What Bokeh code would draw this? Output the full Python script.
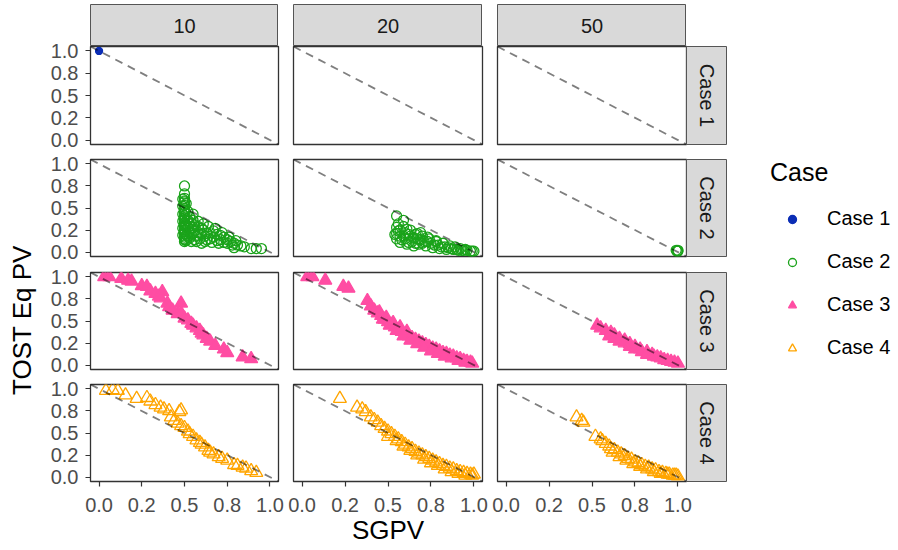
import math

from bokeh.embed import file_html
from bokeh.layouts import column, row
from bokeh.models import (CustomJSTickFormatter, FixedTicker, Label, Legend, LegendItem,
                          Slope, Title)
from bokeh.plotting import figure
from bokeh.resources import INLINE

FONT = "Liberation Sans"

# ---- facet levels and axis ticks -------------------------------------------
sample_sizes = ["10", "20", "50"]
case_names = ["Case 1", "Case 2", "Case 3", "Case 4"]
axis_ticks = [0.0, 0.25, 0.5, 0.75, 1.0]
axis_tick_labels = ["0.0", "0.2", "0.5", "0.8", "1.0"]

# ---- SGPV (x) and TOST equivalence p-value (y), one pair per facet ----------
case1_n10_sgpv = [0.0]
case1_n10_tost = [1.0]
case1_n20_sgpv = []
case1_n20_tost = []
case1_n50_sgpv = []
case1_n50_tost = []

case2_n10_sgpv = [0.50, 0.50, 0.50, 0.50, 0.50, 0.50, 0.50, 0.50, 0.50, 0.50, 0.50, 0.50, 0.50, 0.50, 0.50,
                  0.51, 0.51, 0.51, 0.51, 0.52, 0.53, 0.53, 0.53, 0.53, 0.55, 0.55, 0.55, 0.55, 0.56,
                  0.58, 0.58, 0.58, 0.59, 0.61, 0.61, 0.62, 0.62, 0.64, 0.65, 0.65, 0.66, 0.68, 0.69,
                  0.69, 0.70, 0.72, 0.73, 0.73, 0.76, 0.77, 0.78, 0.79, 0.80, 0.81, 0.83, 0.85, 0.89,
                  0.92, 0.95,
                  0.49, 0.50, 0.49, 0.50, 0.49, 0.50, 0.49, 0.50, 0.49, 0.50, 0.49, 0.50, 0.50, 0.51,
                  0.52, 0.52, 0.52, 0.54, 0.54, 0.54, 0.54, 0.56, 0.56, 0.57, 0.57, 0.60, 0.60, 0.60,
                  0.63, 0.63, 0.67, 0.67, 0.71, 0.71, 0.75, 0.75, 0.79]
case2_n10_tost = [0.75, 0.66, 0.61, 0.57, 0.53, 0.49, 0.45, 0.41, 0.37, 0.33, 0.29, 0.25, 0.21, 0.17, 0.14,
                  0.55, 0.43, 0.31, 0.19, 0.46, 0.40, 0.32, 0.24, 0.16, 0.43, 0.36, 0.28, 0.21, 0.14,
                  0.35, 0.29, 0.22, 0.15, 0.32, 0.25, 0.18, 0.12, 0.29, 0.22, 0.15, 0.11, 0.27, 0.20,
                  0.13, 0.10, 0.22, 0.17, 0.11, 0.17, 0.12, 0.08, 0.05, 0.13, 0.08, 0.07, 0.06, 0.04,
                  0.04, 0.04,
                  0.60, 0.58, 0.52, 0.47, 0.43, 0.39, 0.35, 0.31, 0.27, 0.23, 0.19, 0.15, 0.12, 0.13,
                  0.18, 0.28, 0.36, 0.12, 0.19, 0.26, 0.33, 0.24, 0.31, 0.12, 0.18, 0.10, 0.20, 0.27,
                  0.14, 0.21, 0.17, 0.24, 0.14, 0.19, 0.10, 0.14, 0.10]
case2_n20_sgpv = [0.55, 0.59, 0.55, 0.55, 0.55, 0.57, 0.57, 0.57, 0.59, 0.60, 0.60, 0.61, 0.63, 0.63, 0.64,
                  0.65, 0.67, 0.67, 0.68, 0.70, 0.71, 0.72, 0.74, 0.75, 0.76, 0.78, 0.79, 0.80, 0.82,
                  0.83, 0.84, 0.86, 0.87, 0.89, 0.90, 0.92, 0.93, 0.95, 0.96, 0.98, 0.99, 1.00, 0.69,
                  0.54, 0.56, 0.56, 0.58, 0.59, 0.61, 0.62, 0.62, 0.65, 0.66, 0.66, 0.69, 0.70, 0.73,
                  0.73, 0.77, 0.78, 0.81, 0.85, 0.88, 0.91, 0.94]
case2_n20_tost = [0.41, 0.36, 0.28, 0.21, 0.15, 0.25, 0.18, 0.11, 0.29, 0.22, 0.15, 0.09, 0.25, 0.18, 0.12,
                  0.07, 0.21, 0.15, 0.09, 0.18, 0.12, 0.07, 0.15, 0.10, 0.05, 0.12, 0.08, 0.04, 0.10,
                  0.06, 0.03, 0.07, 0.04, 0.06, 0.03, 0.04, 0.02, 0.03, 0.02, 0.01, 0.01, 0.01, 0.22,
                  0.20, 0.32, 0.24, 0.14, 0.18, 0.26, 0.20, 0.11, 0.16, 0.20, 0.10, 0.14, 0.10, 0.12,
                  0.17, 0.08, 0.13, 0.06, 0.05, 0.03, 0.02, 0.02]
case2_n50_sgpv = [0.99, 1.00, 1.00, 0.995]
case2_n50_tost = [0.02, 0.01, 0.02, 0.01]

case3_n10_sgpv = [0.03, 0.06, 0.13, 0.17, 0.19, 0.25, 0.28, 0.30, 0.33, 0.35, 0.37, 0.36, 0.40, 0.41, 0.48,
                  0.43, 0.46, 0.48, 0.50, 0.52, 0.54, 0.55, 0.57, 0.59, 0.60, 0.61, 0.63, 0.65, 0.68,
                  0.73, 0.75, 0.84, 0.89]
case3_n10_tost = [1.00, 1.00, 0.98, 0.96, 0.95, 0.90, 0.89, 0.84, 0.81, 0.78, 0.83, 0.76, 0.70, 0.66, 0.70,
                  0.62, 0.58, 0.59, 0.53, 0.51, 0.47, 0.45, 0.42, 0.39, 0.36, 0.34, 0.30, 0.27, 0.22,
                  0.18, 0.14, 0.09, 0.07]
case3_n20_sgpv = [0.03, 0.06, 0.135, 0.24, 0.27, 0.38, 0.40, 0.42, 0.44, 0.46, 0.48, 0.50, 0.52, 0.54,
                  0.56, 0.58, 0.60, 0.62, 0.64, 0.66, 0.68, 0.70, 0.72, 0.74, 0.76, 0.78, 0.80, 0.82,
                  0.84, 0.86, 0.88, 0.90, 0.92, 0.94, 0.96, 0.98, 0.99, 0.47, 0.51, 0.55, 0.59, 0.63,
                  0.67, 0.71, 0.75, 0.79, 0.83, 0.87, 0.91, 0.95, 0.45, 0.49, 0.53, 0.57, 0.61]
case3_n20_tost = [1.00, 1.00, 0.96, 0.89, 0.87, 0.73, 0.67, 0.62, 0.59, 0.56, 0.52, 0.49, 0.46, 0.43,
                  0.40, 0.38, 0.35, 0.33, 0.31, 0.29, 0.27, 0.25, 0.23, 0.21, 0.19, 0.18, 0.16, 0.14,
                  0.13, 0.11, 0.10, 0.08, 0.07, 0.05, 0.04, 0.03, 0.02, 0.52, 0.45, 0.39, 0.33, 0.28,
                  0.24, 0.20, 0.16, 0.13, 0.10, 0.08, 0.05, 0.03, 0.60, 0.54, 0.48, 0.43, 0.38]
case3_n50_sgpv = [0.53, 0.55, 0.58, 0.61, 0.60, 0.63, 0.63, 0.66, 0.66, 0.69, 0.69, 0.72, 0.72, 0.75,
                  0.75, 0.78, 0.79, 0.82, 0.82, 0.85, 0.86, 0.88, 0.90, 0.92, 0.94, 0.96, 0.98, 1.00]
case3_n50_tost = [0.45, 0.42, 0.39, 0.37, 0.33, 0.34, 0.30, 0.30, 0.27, 0.28, 0.25, 0.24, 0.21, 0.21,
                  0.18, 0.18, 0.15, 0.15, 0.12, 0.12, 0.10, 0.09, 0.08, 0.06, 0.05, 0.04, 0.03, 0.02]

case4_n10_sgpv = [0.04, 0.08, 0.11, 0.155, 0.22, 0.28, 0.30, 0.33, 0.36, 0.38, 0.41, 0.47, 0.48, 0.42,
                  0.44, 0.46, 0.48, 0.50, 0.52, 0.53, 0.55, 0.57, 0.59, 0.60, 0.62, 0.64, 0.65, 0.67,
                  0.70, 0.72, 0.75, 0.79, 0.81, 0.84, 0.86, 0.89, 0.92]
case4_n10_tost = [0.98, 0.99, 0.98, 0.93, 0.89, 0.90, 0.86, 0.82, 0.79, 0.77, 0.75, 0.74, 0.76, 0.68,
                  0.64, 0.61, 0.58, 0.56, 0.52, 0.49, 0.46, 0.42, 0.39, 0.37, 0.34, 0.30, 0.28, 0.26,
                  0.23, 0.21, 0.19, 0.14, 0.13, 0.11, 0.10, 0.07, 0.05]
case4_n20_sgpv = [0.22, 0.32, 0.35, 0.37, 0.40, 0.42, 0.44, 0.46, 0.48, 0.50, 0.50, 0.52, 0.54, 0.56,
                  0.58, 0.60, 0.62, 0.64, 0.66, 0.68, 0.70, 0.72, 0.74, 0.76, 0.78, 0.80, 0.82, 0.84,
                  0.86, 0.88, 0.90, 0.92, 0.94, 0.96, 0.98, 0.99, 1.00, 0.55, 0.59, 0.63, 0.67, 0.71,
                  0.75, 0.79, 0.83, 0.87, 0.91, 0.95]
case4_n20_tost = [0.89, 0.79, 0.77, 0.74, 0.68, 0.65, 0.62, 0.58, 0.55, 0.46, 0.52, 0.49, 0.46, 0.43,
                  0.40, 0.37, 0.34, 0.32, 0.29, 0.27, 0.25, 0.23, 0.21, 0.19, 0.17, 0.15, 0.13, 0.12,
                  0.10, 0.09, 0.07, 0.06, 0.05, 0.04, 0.03, 0.02, 0.03, 0.41, 0.35, 0.30, 0.25, 0.20,
                  0.16, 0.13, 0.09, 0.06, 0.04, 0.02]
case4_n50_sgpv = [0.41, 0.44, 0.45, 0.52, 0.55, 0.56, 0.58, 0.60, 0.61, 0.63, 0.65, 0.67, 0.69, 0.71,
                  0.73, 0.75, 0.77, 0.79, 0.81, 0.83, 0.85, 0.87, 0.89, 0.91, 0.93, 0.95, 0.97, 0.99,
                  1.00, 0.62, 0.66, 0.70, 0.74, 0.78, 0.82, 0.86, 0.90, 0.94, 0.98]
case4_n50_tost = [0.68, 0.64, 0.62, 0.46, 0.43, 0.41, 0.38, 0.35, 0.32, 0.31, 0.28, 0.26, 0.24, 0.21,
                  0.20, 0.17, 0.16, 0.14, 0.12, 0.11, 0.09, 0.08, 0.06, 0.05, 0.04, 0.03, 0.02, 0.02,
                  0.01, 0.28, 0.23, 0.19, 0.15, 0.12, 0.09, 0.06, 0.04, 0.03, 0.02]

facet_data = {
    (0, 0): (case1_n10_sgpv, case1_n10_tost),
    (0, 1): (case1_n20_sgpv, case1_n20_tost),
    (0, 2): (case1_n50_sgpv, case1_n50_tost),
    (1, 0): (case2_n10_sgpv, case2_n10_tost),
    (1, 1): (case2_n20_sgpv, case2_n20_tost),
    (1, 2): (case2_n50_sgpv, case2_n50_tost),
    (2, 0): (case3_n10_sgpv, case3_n10_tost),
    (2, 1): (case3_n20_sgpv, case3_n20_tost),
    (2, 2): (case3_n50_sgpv, case3_n50_tost),
    (3, 0): (case4_n10_sgpv, case4_n10_tost),
    (3, 1): (case4_n20_sgpv, case4_n20_tost),
    (3, 2): (case4_n50_sgpv, case4_n50_tost),
}

# ---- styling ----------------------------------------------------------------
case_colors = ["#0B2DB5", "#1AA31A", "#FF4DA3", "#FFA500"]
case_markers = ["circle", "circle", "triangle", "triangle"]
case_filled = [True, False, True, False]
case_sizes = [7, 10, 13, 13]

STRIP_FILL = "#D9D9D9"
STRIP_LINE = "#555555"
PANEL_LINE = "#333333"

FRAME_W = [188, 189, 189]      # panel widths per column
LEFT_W = [50, 15, 15]          # space left of each panel (col 0 holds y tick labels)
FRAME_H = [98, 97, 97, 97]     # panel heights per row
BELOW_H = [15, 16, 15, 69]     # space below each panel (last row holds x axis)
STRIP_H = 46
SIDE_W = 41
TITLE_W = 40
LEGEND_W = 171
BLEED = 10                     # transparent overhang so tick labels are not clipped


def style_axis(ax, standoff):
    ax.ticker = FixedTicker(ticks=axis_ticks)
    ax.formatter = CustomJSTickFormatter(
        args=dict(tick_values=axis_ticks, tick_labels=axis_tick_labels),
        code="const i = tick_values.indexOf(tick); return i >= 0 ? tick_labels[i] : '';",
    )
    ax.axis_line_color = None
    ax.major_tick_line_color = PANEL_LINE
    ax.major_tick_line_width = 1.2
    ax.major_tick_out = 5
    ax.major_tick_in = 0
    ax.minor_tick_line_color = None
    ax.major_label_text_font = FONT
    ax.major_label_text_font_size = "20px"
    ax.major_label_text_color = "#4D4D4D"
    ax.major_label_standoff = standoff


def make_panel(r, c):
    b = BLEED
    p = figure(
        width=LEFT_W[c] + FRAME_W[c] + 2 * b, height=FRAME_H[r] + BELOW_H[r] + 2 * b,
        x_range=(-0.05, 1.05), y_range=(-0.05, 1.05),
        x_axis_location="below" if r == 3 else None,
        y_axis_location="left" if c == 0 else None,
        min_border_left=LEFT_W[c] + b, min_border_right=b,
        min_border_top=b, min_border_bottom=BELOW_H[r] + b,
        toolbar_location=None, output_backend="svg",
        outline_line_color=PANEL_LINE, outline_line_width=1.3,
        background_fill_color="white", border_fill_alpha=0,
        margin=(-b, -b, -b, -b),
    )
    p.xgrid.visible = False
    p.ygrid.visible = False
    for ax in p.xaxis:
        style_axis(ax, 11)
    for ax in p.yaxis:
        style_axis(ax, 7)
    if r == 3 and c == 1:
        p.xaxis.axis_label = "SGPV"
        p.xaxis.axis_label_text_font = FONT
        p.xaxis.axis_label_text_font_size = "26px"
        p.xaxis.axis_label_text_font_style = "normal"
        p.xaxis.axis_label_text_color = "black"
        p.xaxis.axis_label_standoff = 0

    xs, ys = facet_data[(r, c)]
    color = case_colors[r]
    p.scatter(xs, ys, marker=case_markers[r], size=case_sizes[r],
              fill_color=color if case_filled[r] else None,
              line_color=color, line_width=1.3)
    p.add_layout(Slope(gradient=-1, y_intercept=1, line_color="black", line_alpha=0.5,
                       line_width=1.8, line_dash="8 6"))
    return p


def blank(width, height, **borders):
    f = figure(width=width, height=height, x_range=(0, 1), y_range=(0, 1),
               x_axis_location=None, y_axis_location=None,
               toolbar_location=None, output_backend="svg",
               min_border_left=borders.get("left", 0), min_border_right=borders.get("right", 0),
               min_border_top=borders.get("top", 0), min_border_bottom=borders.get("bottom", 0),
               outline_line_color=None, border_fill_alpha=0, background_fill_alpha=0)
    f.xgrid.visible = False
    f.ygrid.visible = False
    return f


def top_strip(c):
    s = blank(LEFT_W[c] + FRAME_W[c], STRIP_H, left=LEFT_W[c], top=4)
    s.background_fill_color = STRIP_FILL
    s.background_fill_alpha = 1
    s.outline_line_color = STRIP_LINE
    s.add_layout(Label(x=0.5, y=0.5, text=sample_sizes[c], text_align="center",
                       text_baseline="middle", text_font=FONT, text_font_size="20px",
                       text_color="#1A1A1A"))
    return s


def side_strip(r):
    # same vertical overhang as the panels in its row, so the rows line up
    b = BLEED
    s = blank(SIDE_W, FRAME_H[r] + BELOW_H[r] + 2 * b, top=b, bottom=BELOW_H[r] + b)
    s.margin = (-b, 0, -b, 0)
    s.background_fill_color = STRIP_FILL
    s.background_fill_alpha = 1
    s.outline_line_color = STRIP_LINE
    s.add_layout(Label(x=0.5, y=0.5, text=case_names[r], angle=-math.pi / 2,
                       text_align="center", text_baseline="middle", text_font=FONT,
                       text_font_size="20px", text_color="#1A1A1A"))
    return s


total_h = STRIP_H + sum(FRAME_H) + sum(BELOW_H)

# y-axis title spanning all facet rows
ytitle = blank(TITLE_W, total_h, left=36, top=STRIP_H, bottom=BELOW_H[-1])
ytitle.add_layout(Title(text="TOST Eq PV", align="center", standoff=0,
                        text_font=FONT, text_font_size="26px", text_font_style="normal",
                        text_color="black"), "left")

# legend panel; its key renderers stay hidden and only feed the legend
legend_fig = blank(LEGEND_W, total_h, left=43, top=158)
items = []
for i, name in enumerate(case_names):
    xs, ys = facet_data[(i, 0)]
    rend = legend_fig.scatter(xs[:1], ys[:1], marker=case_markers[i],
                              fill_color=case_colors[i] if case_filled[i] else None,
                              line_color=case_colors[i], line_width=1.3, visible=False)
    items.append(LegendItem(label=name, renderers=[rend]))
legend = Legend(items=items, title="Case", location="top_left",
                padding=0, margin=0, border_line_color=None, background_fill_alpha=0,
                inactive_fill_alpha=0,
                glyph_width=44, glyph_height=20, label_height=20, spacing=20,
                label_standoff=13, title_standoff=20,
                label_text_font=FONT, label_text_font_size="20px", label_text_color="black",
                title_text_font=FONT, title_text_font_size="25px", title_text_font_style="normal",
                title_text_color="black")
legend_fig.add_layout(legend)

grid = column(
    row(*[top_strip(c) for c in range(3)]),
    *[row(*[make_panel(r, c) for c in range(3)], side_strip(r)) for r in range(4)],
)
layout = row(ytitle, grid, legend_fig)

open("out.html", "w").write(file_html(layout, INLINE))
